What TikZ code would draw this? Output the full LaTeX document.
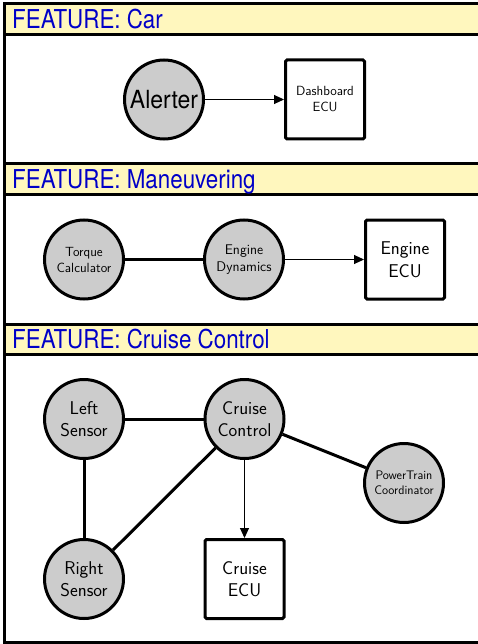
\documentclass[tikz,border=0pt]{standalone}
\usepackage{fontspec}
\newfontfamily\hdrfont[FakeStretch=0.86]{TeX Gyre Heros}
\newfontfamily\helvfont[FakeStretch=0.92]{TeX Gyre Heros}
\usetikzlibrary{arrows.meta}
\definecolor{hdrfill}{RGB}{255,247,190}
\definecolor{hdrtext}{RGB}{0,0,200}
\definecolor{nodefill}{RGB}{204,204,204}
\begin{document}
\begin{tikzpicture}[x=1pt,y=-1pt,
  frame/.style={draw=black,line width=3pt},
  header/.style={frame,fill=hdrfill},
  feat/.style={anchor=base west,inner sep=0pt,text=hdrtext,
    font=\hdrfont\fontsize{26}{26}\selectfont},
  proc/.style={circle,draw=black,line width=3pt,fill=nodefill,
    minimum size=79pt,inner sep=0pt,align=center},
  ecu/.style={rectangle,rounded corners=1.5pt,draw=black,line width=3pt,
    fill=white,minimum size=79pt,inner sep=0pt,align=center},
  link/.style={line width=3pt},
  flow/.style={line width=1pt,-{Triangle[length=10pt,width=9pt]}},
  tiny/.style={font=\sffamily\fontsize{12.4}{15}\selectfont},
  small/.style={font=\sffamily\fontsize{13.3}{16}\selectfont},
  medium/.style={font=\sffamily\fontsize{14}{17}\selectfont},
  large/.style={font=\sffamily\fontsize{18.5}{22.5}\selectfont},
]
\useasboundingbox (0,0) rectangle (478,644);

% feature bands: yellow title strip above a white body
\begin{scope}
  \clip (0,0) rectangle (478,644);
  \draw[header]           (4,3.5)   rectangle (500,34.5);
  \draw[frame,fill=white] (4,34.5)  rectangle (500,164);
  \draw[header]           (4,164)   rectangle (500,194.5);
  \draw[frame,fill=white] (4,194.5) rectangle (500,324);
  \draw[header]           (4,324)   rectangle (500,354.5);
  \draw[frame,fill=white] (4,354.5) rectangle (500,642);
\end{scope}

\node[feat] (hcar)    at (12,28.7)  {FEATURE: Car};
\node[feat] (hman)    at (12,188.5) {FEATURE: Maneuvering};
\node[feat] (hcruise) at (12,348.7) {FEATURE: Cruise Control};

% Car
\node[proc,font=\helvfont\fontsize{25}{25}\selectfont] (alerter) at (164,99.5) {Alerter};
\node[ecu,small] (dash) at (325,99.5) {Dashboard\\ECU};
\draw[flow] (alerter) -- (dash);

% Maneuvering
\node[proc,small]  (torque) at (84,259.5)  {Torque\\Calculator};
\node[proc,medium] (dyn)    at (244,259.5) {Engine\\Dynamics};
\node[ecu,large]   (eecu)   at (405,259.5) {Engine\\ECU};
\draw[link] (torque) -- (dyn);
\draw[flow] (dyn) -- (eecu);

% Cruise Control
\node[proc,large] (lsens)  at (84,419)    {Left\\Sensor};
\node[proc,large] (cruise) at (244.5,419) {Cruise\\Control};
\node[proc,tiny]  (ptc)    at (404,483)   {PowerTrain\\Coordinator};
\node[proc,large] (rsens)  at (84,579)    {Right\\Sensor};
\node[ecu,large]  (cecu)   at (244.5,579) {Cruise\\ECU};
\draw[link] (lsens) -- (cruise);
\draw[link] (lsens) -- (rsens);
\draw[link] (cruise) -- (rsens);
\draw[link] (cruise) -- (ptc);
\draw[flow] (cruise) -- (cecu);
\end{tikzpicture}
\end{document}
